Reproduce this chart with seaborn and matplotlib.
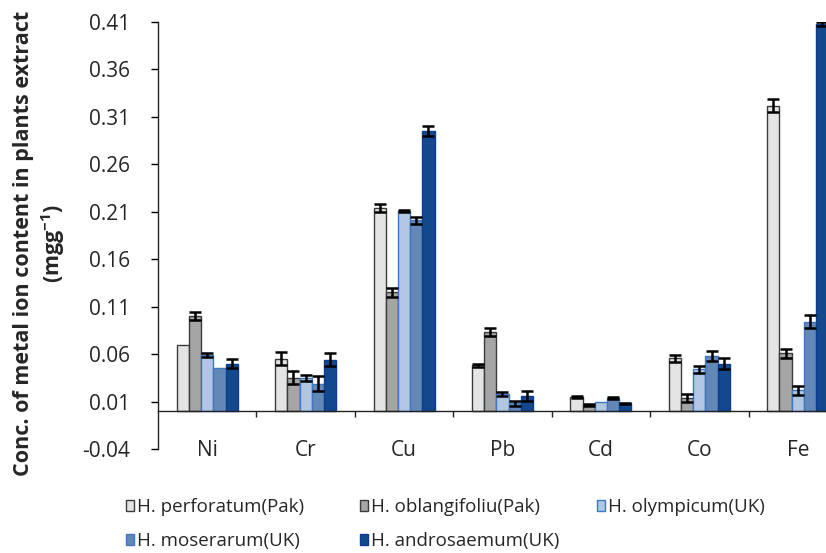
import numpy as np
import pandas as pd
import matplotlib
matplotlib.use("Agg")
import matplotlib.pyplot as plt
import seaborn as sns

# -----------------------------
# DATA
# -----------------------------
metals = ["Ni", "Cr", "Cu", "Pb", "Cd", "Co", "Fe"]
species = ["H. perforatum(Pak)", "H. oblangifoliu(Pak)", "H. olympicum(UK)",
           "H. moserarum(UK)", "H. androsaemum(UK)"]

perforatum = [0.070, 0.055, 0.214, 0.048, 0.015, 0.0555, 0.322]
oblangifoliu = [0.100, 0.035, 0.125, 0.083, 0.006, 0.0137, 0.061]
olympicum = [0.059, 0.035, 0.211, 0.018, 0.0097, 0.044, 0.022]
moserarum = [0.045, 0.029, 0.201, 0.008, 0.014, 0.058, 0.094]
androsaemum = [0.050, 0.054, 0.295, 0.016, 0.008, 0.050, 0.408]

err_perforatum = [0.0, 0.007, 0.004, 0.002, 0.001, 0.004, 0.0065]
err_oblangifoliu = [0.004, 0.007, 0.005, 0.004, 0.001, 0.0045, 0.0046]
err_olympicum = [0.002, 0.0035, 0.001, 0.002, 0.0, 0.0035, 0.0046]
err_moserarum = [0.0, 0.0075, 0.004, 0.0025, 0.001, 0.0048, 0.0067]
err_androsaemum = [0.005, 0.007, 0.005, 0.005, 0.001, 0.0056, 0.002]

y_ticks = [-0.04, 0.01, 0.06, 0.11, 0.16, 0.21, 0.26, 0.31, 0.36, 0.41]

colors = ["#E4E4E4", "#A5A5A5", "#A9C5E8", "#5586C5", "#0046A0"]
edges = ["#3C3C3C", "#3C3C3C", "#3F78C2", "#3F78C2", "#0A3F90"]

values = [perforatum, oblangifoliu, olympicum, moserarum, androsaemum]
errors = [err_perforatum, err_oblangifoliu, err_olympicum, err_moserarum, err_androsaemum]

df = pd.DataFrame({
    "metal": metals * len(species),
    "species": [s for s in species for _ in metals],
    "value": np.concatenate(values),
})

# -----------------------------
# STYLE
# -----------------------------
sns.set_style("ticks")
plt.rcParams["font.family"] = ["Open Sans", "DejaVu Sans"]
plt.rcParams["mathtext.default"] = "regular"

fig = plt.figure(figsize=(8.26, 5.53), dpi=100)
ax = fig.add_axes([158 / 826, 1 - 449 / 553, 689 / 826, 427 / 553])

sns.barplot(data=df, x="metal", y="value", hue="species", order=metals,
            hue_order=species, palette=colors, width=0.62, errorbar=None,
            linewidth=1.0, ax=ax, legend=True)

# edges + error bars, placed from the drawn bars
bar_groups = list(ax.containers)
for i, container in enumerate(bar_groups):
    for j, bar in enumerate(container):
        bar.set_edgecolor(edges[i])
        bar.set_linewidth(1.0)
        e = errors[i][j]
        if e > 0:
            ax.errorbar(bar.get_x() + bar.get_width() / 2, bar.get_height(),
                        yerr=e, fmt="none", ecolor="black", elinewidth=1.8,
                        capsize=4, capthick=1.8, zorder=5, clip_on=True)

ax.set_ylim(-0.04, 0.41)
ax.set_xlim(-0.5, 6.5)
ax.set_yticks(y_ticks)
ax.set_yticklabels([f"{t:.2f}" for t in y_ticks], fontsize=15)
ax.tick_params(axis="y", direction="out", length=5, width=1, color="black", pad=15)

ax.spines["bottom"].set_position(("data", 0))
ax.spines["top"].set_visible(False)
ax.spines["right"].set_visible(False)
for sp in ["left", "bottom"]:
    ax.spines[sp].set_color("#222222")
    ax.spines[sp].set_linewidth(1.0)

ax.set_xticks(range(len(metals)))
ax.set_xticklabels(metals, fontsize=15)
ax.tick_params(axis="x", length=0, pad=21)
ax.set_xticks(np.arange(0.5, len(metals) - 0.5, 1.0), minor=True)
ax.tick_params(axis="x", which="minor", direction="out", length=4.5, width=1, color="#222222")
ax.set_xlabel("")
ax.set_ylabel("")

fig.text(40 / 826, 1 - 243 / 553,
         "Conc. of metal ion content in plants extract\n(mgg$^{-1}$)",
         rotation=90, ha="center", va="center", fontsize=15.5,
         fontweight="bold", linespacing=1.2, multialignment="center")

# legend: three columns placed like the original (equal column widths)
handles, labels = ax.get_legend_handles_labels()
ax.legend_.remove()
for h, c in zip(handles, edges):
    h.set_edgecolor(c)
columns = [[0, 3], [1, 4], [2]]
col_x = [126, 360, 597]
for xpos, idx in zip(col_x, columns):
    fig.legend([handles[k] for k in idx], [labels[k] for k in idx],
               loc="upper left", bbox_to_anchor=(xpos / 826, 1 - 498 / 553),
               ncol=1, frameon=False, fontsize=13.5, handlelength=0.4,
               handleheight=0.5, handletextpad=0.2, labelspacing=0.85,
               borderpad=0, borderaxespad=0)

fig.savefig("out.png", dpi=100)
